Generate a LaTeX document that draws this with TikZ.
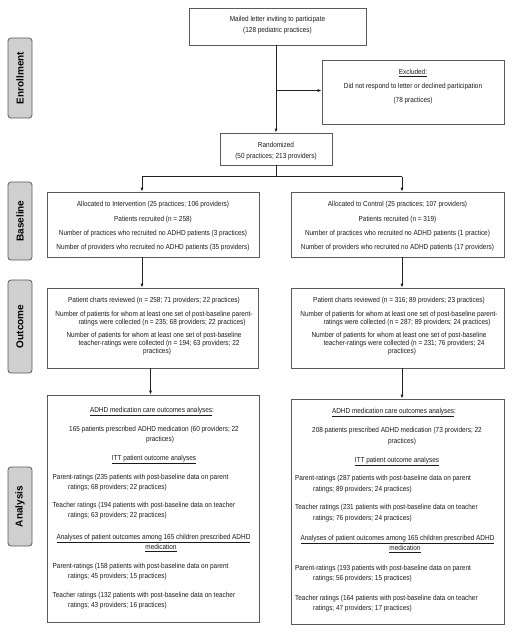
\documentclass[tikz,border=0pt]{standalone}
\usepackage{fontspec}
\setmainfont{Liberation Sans}[FakeStretch=0.88]
\newfontfamily\labelfont{Liberation Sans}
\usetikzlibrary{arrows.meta}
\definecolor{boxgray}{HTML}{5A5A5A}
\definecolor{linegray}{HTML}{222222}
\definecolor{labfill}{HTML}{CFCFCF}
\definecolor{txtcol}{HTML}{1A1A1A}
\tikzset{
  box/.style={draw=boxgray, line width=0.8pt, inner sep=0pt, fill=white},
  side/.style={draw=boxgray, line width=0.8pt, fill=labfill, rounded corners=3pt, rotate=90,
    inner sep=0pt, minimum height=24pt, font=\labelfont\bfseries\fontsize{10}{12}\selectfont},
  txt/.style={inner sep=0pt, align=center, text=txtcol, font=\fontsize{7.3}{8.3}\selectfont},
  ln/.style={inner sep=0pt, text=txtcol, font=\fontsize{7.3}{8.3}\selectfont},
  conn/.style={draw=linegray, line width=0.8pt},
  arr/.style={conn, -{Latex[length=4pt,width=3.2pt]}}
}
\begin{document}
\begin{tikzpicture}[x=1pt,y=-1pt]
\useasboundingbox (0,0) rectangle (512,632);
\fill[white] (0,0) rectangle (512,632);

% side labels
\node[side, minimum width=80pt] (enr) at (20,78) {Enrollment};
\node[side, minimum width=78pt] (bas) at (20,221) {Baseline};
\node[side, minimum width=93pt] (outc) at (20,326.5) {Outcome};
\node[side, minimum width=79pt] (ana) at (20,506.5) {Analysis};

% boxes
\node[box, minimum width=177pt, minimum height=37pt] (mail) at (277.5,26.5) {};
\node[box, minimum width=182pt, minimum height=64pt] (excl) at (413,92) {};
\node[box, minimum width=112pt, minimum height=32pt] (rand) at (276,149) {};
\node[box, minimum width=212pt, minimum height=65pt] (baseL) at (153,224.5) {};
\node[box, minimum width=213pt, minimum height=65pt] (baseR) at (397.5,224.5) {};
\node[box, minimum width=211pt, minimum height=80pt] (outL) at (152.5,328) {};
\node[box, minimum width=213pt, minimum height=80pt] (outR) at (397.5,328) {};
\node[box, minimum width=212pt, minimum height=227pt] (anaL) at (153,508.5) {};
\node[box, minimum width=213pt, minimum height=225pt] (anaR) at (397.5,511.5) {};

% texts in the upper boxes
\node[txt, anchor=north, font=\fontsize{7.3}{11}\selectfont] (mailT) at (277.5,16.3)
  {Mailed letter inviting to participate\\(128 pediatric practices)};
\node[txt, anchor=north, font=\fontsize{7.3}{14}\selectfont] (exclT) at (413,69.3)
  {\underline{Excluded:}\\Did not respond to letter or declined participation\\(78 practices)};
\node[txt, anchor=north, font=\fontsize{7.3}{11}\selectfont] (randT) at (276,142.3)
  {Randomized\\(50 practices; 213 providers)};

\node[txt, anchor=north, font=\fontsize{7.3}{14.3}\selectfont] (baseLT) at (153,201.3)
  {Allocated to Intervention (25 practices; 106 providers)\\
   Patients recruited (n = 258)\\
   Number of practices who recruited no ADHD patients (3 practices)\\
   Number of providers who recruited no ADHD patients (35 providers)};
\node[txt, anchor=north, font=\fontsize{7.3}{14.3}\selectfont] (baseRT) at (397.5,201.3)
  {Allocated to Control (25 practices; 107 providers)\\
   Patients recruited (n = 319)\\
   Number of practices who recruited no ADHD patients (1 practice)\\
   Number of providers who recruited no ADHD patients (17 providers)};

\node[txt, anchor=north] (outLT) at (154,297.3)
  {Patient charts reviewed (n = 258; 71 providers; 22 practices)\\[5pt]
   Number of patients for whom at least one set of post-baseline parent-\\
   \hspace*{16pt}ratings were collected (n = 235; 68 providers; 22 practices)\\[4.7pt]
   Number of patients for whom at least one set of post-baseline\\
   \hspace*{10pt}teacher-ratings were collected (n = 194; 63 providers; 22\\
   \hspace*{6pt}practices)};
\node[txt, anchor=north] (outRT) at (399,297.3)
  {Patient charts reviewed (n = 316; 89 providers; 23 practices)\\[5pt]
   Number of patients for whom at least one set of post-baseline parent-\\
   \hspace*{16pt}ratings were collected (n = 287; 89 providers; 24 practices)\\[4.7pt]
   Number of patients for whom at least one set of post-baseline\\
   \hspace*{10pt}teacher-ratings were collected (n = 231; 76 providers; 24\\
   \hspace*{6pt}practices)};

% analysis, left
\node[ln, anchor=base] (aL1) at (152,412.5) {\underline{ADHD medication care outcomes analyses}:};
\node[ln, anchor=base west] (aL2) at (69,431.5) {165 patients prescribed ADHD medication (60 providers; 22};
\node[ln, anchor=base] (aL3) at (160,441.5) {practices)};
\node[ln, anchor=base] (aL4) at (154,460) {\underline{ITT patient outcome analyses}};
\node[ln, anchor=base west] (aL5) at (52.5,479.5) {Parent-ratings (235 patients with post-baseline data on parent};
\node[ln, anchor=base west] (aL6) at (68,489.5) {ratings; 68 providers; 22 practices)};
\node[ln, anchor=base west] (aL7) at (52.5,507.5) {Teacher ratings (194 patients with post-baseline data on teacher};
\node[ln, anchor=base west] (aL8) at (68,517.5) {ratings; 63 providers; 22 practices)};
\node[ln, anchor=base] (aL9) at (153.5,539.5) {\underline{Analyses of patient outcomes among 165 children prescribed ADHD}};
\node[ln, anchor=base] (aL10) at (161,549.5) {\underline{medication}};
\node[ln, anchor=base west] (aL11) at (52.5,568.5) {Parent-ratings (158 patients with post-baseline data on parent};
\node[ln, anchor=base west] (aL12) at (68,578.5) {ratings; 45 providers; 15 practices)};
\node[ln, anchor=base west] (aL13) at (52.5,597.5) {Teacher ratings (132 patients with post-baseline data on teacher};
\node[ln, anchor=base west] (aL14) at (68,607.5) {ratings; 43 providers; 16 practices)};

% analysis, right
\node[ln, anchor=base] (aR1) at (394,413.5) {\underline{ADHD medication care outcomes analyses}:};
\node[ln, anchor=base west] (aR2) at (312,432.5) {208 patients prescribed ADHD medication (73 providers; 22};
\node[ln, anchor=base] (aR3) at (402,443.5) {practices)};
\node[ln, anchor=base] (aR4) at (397,462.5) {\underline{ITT patient outcome analyses}};
\node[ln, anchor=base west] (aR5) at (295,480.5) {Parent-ratings (287 patients with post-baseline data on parent};
\node[ln, anchor=base west] (aR6) at (313,491) {ratings; 89 providers; 24 practices)};
\node[ln, anchor=base west] (aR7) at (295,509.5) {Teacher ratings (231 patients with post-baseline data on teacher};
\node[ln, anchor=base west] (aR8) at (313,520.5) {ratings; 76 providers; 24 practices)};
\node[ln, anchor=base] (aR9) at (397.5,540.5) {\underline{Analyses of patient outcomes among 165 children prescribed ADHD}};
\node[ln, anchor=base] (aR10) at (405,550.5) {\underline{medication}};
\node[ln, anchor=base west] (aR11) at (295,570.5) {Parent-ratings (193 patients with post-baseline data on parent};
\node[ln, anchor=base west] (aR12) at (313,580.5) {ratings; 56 providers; 15 practices)};
\node[ln, anchor=base west] (aR13) at (295,600.5) {Teacher ratings (164 patients with post-baseline data on teacher};
\node[ln, anchor=base west] (aR14) at (313,610.5) {ratings; 47 providers; 17 practices)};

% connectors
\draw[arr] (rand.north |- mail.south) -- (rand.north);
\coordinate (br) at (276,90.5);
\draw[arr] (br) -- (br -| excl.west);
\coordinate (spL) at (142,176.5);
\coordinate (spR) at (402,176.5);
\draw[conn] (rand.south) -- (rand.south |- spL);
\draw[conn] (spL) -- (spR);
\draw[arr] (spL) -- (spL |- baseL.north);
\draw[arr] (spR) -- (spR |- baseR.north);
\draw[arr] (spL |- baseL.south) -- (spL |- outL.north);
\draw[arr] (spR |- baseR.south) -- (spR |- outR.north);
\draw[arr] ([xshift=-2pt]outL.south) -- ([xshift=-2pt]outL.south |- anaL.north);
\draw[arr] ([xshift=4.5pt]outR.south) -- ([xshift=4.5pt]outR.south |- anaR.north);
\end{tikzpicture}
\end{document}
